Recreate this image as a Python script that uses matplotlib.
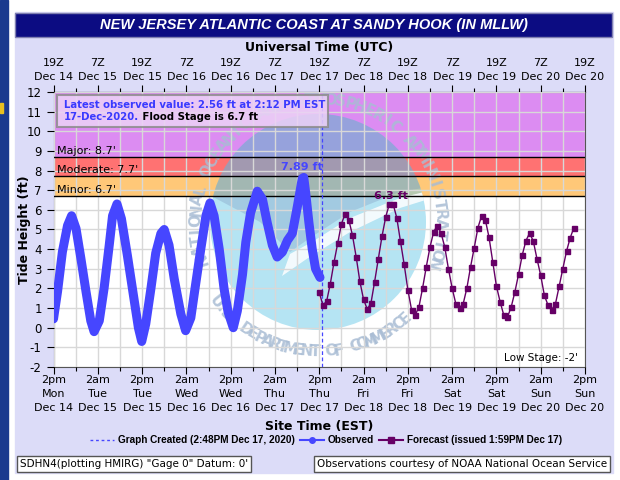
import numpy as np
import matplotlib
matplotlib.use("Agg")
import matplotlib.pyplot as plt
from matplotlib.patches import Rectangle, Circle, Polygon
from matplotlib.lines import Line2D
from matplotlib.transforms import IdentityTransform

# hours since 2pm EST Mon Dec 14
obs_hours = [0.0, 1.1, 2.4, 3.8, 4.9, 6.1, 7.4, 8.8, 10.1, 11.0, 12.4, 13.7, 15.1, 16.0,
             17.2, 18.4, 20.0, 21.9, 23.0, 23.9, 25.0, 26.4, 27.7, 29.1, 30.0, 31.3, 32.7,
             34.5, 35.8, 37.2, 38.5, 39.9, 41.3, 42.4, 43.5, 44.9, 46.2, 47.3, 48.7, 49.8,
             51.2, 52.1, 53.4, 55.2, 56.6, 57.9, 59.3, 60.6, 62.0, 63.4, 64.7, 66.1, 67.4,
             67.8, 68.3, 69.2, 70.1, 71.0, 72.2]
obs_ft = [0.45, 1.85, 3.85, 5.2, 5.7, 5.05, 3.55, 1.85, 0.35, -0.2, 0.35, 2.0, 4.2, 5.7,
          6.3, 5.55, 3.7, 1.35, 0.0, -0.7, 0.2, 2.0, 3.8, 4.8, 5.0, 4.2, 2.5,
          0.7, -0.15, 0.5, 2.2, 4.0, 5.7, 6.35, 5.7, 4.0, 2.0, 0.8, 0.0, 0.85,
          2.7, 4.35, 5.85, 6.95, 6.55, 5.35, 4.2, 3.6, 3.85, 4.45, 4.8, 6.2, 7.6,
          7.65, 6.9, 5.35, 4.0, 3.0, 2.56]

fc_start = 72
fc_ft = [1.8, 1.14, 1.35, 2.24, 3.33, 4.30, 5.28, 5.79, 5.50, 4.70, 3.61, 2.36, 1.44, 0.95,
         1.24, 2.34, 3.50, 4.65, 5.63, 6.3, 6.3, 5.60, 4.40, 3.23, 1.94, 0.92, 0.65, 1.05,
         2.02, 3.10, 4.10, 4.88, 5.20, 4.82, 4.11, 3.00, 2.02, 1.22, 1.02, 1.22, 2.02, 3.10,
         4.08, 5.10, 5.70, 5.49, 4.60, 3.36, 2.12, 1.32, 0.64, 0.55, 1.05, 1.82, 2.72, 3.70,
         4.43, 4.82, 4.40, 3.50, 2.66, 1.64, 1.14, 0.92, 1.22, 2.11, 3.01, 3.90, 4.58, 5.10]
fc_hours = list(range(fc_start, fc_start + len(fc_ft)))

graph_created = 72.8
stages = [("Minor", 6.7, 7.7, "#ffc878"), ("Moderate", 7.7, 8.7, "#ff7272"),
          ("Major", 8.7, 12.0, "#dc8cf2")]

bottom_labels = ["2pm\nMon\nDec 14", "2am\nTue\nDec 15", "2pm\nTue\nDec 15", "2am\nWed\nDec 16",
                 "2pm\nWed\nDec 16", "2am\nThu\nDec 17", "2pm\nThu\nDec 17", "2am\nFri\nDec 18",
                 "2pm\nFri\nDec 18", "2am\nSat\nDec 19", "2pm\nSat\nDec 19", "2am\nSun\nDec 20",
                 "2pm\nSun\nDec 20"]
top_labels = ["19Z\nDec 14", "7Z\nDec 15", "19Z\nDec 15", "7Z\nDec 16", "19Z\nDec 16",
              "7Z\nDec 17", "19Z\nDec 17", "7Z\nDec 18", "19Z\nDec 18", "7Z\nDec 19",
              "19Z\nDec 19", "7Z\nDec 20", "19Z\nDec 20"]

OBS = "#4646ff"
FC = "#660066"
H = 480

fig = plt.figure(figsize=(6.2, 4.8), dpi=100, facecolor="white")
pix = IdentityTransform()

def P(x, y):
    # pixel coords measured from the top-left
    return (x, H - y)

# page furniture
fig.patches.append(Rectangle((0, 0), 8, H, transform=pix, color="#1a3a8e", zorder=-3))
fig.patches.append(Rectangle(P(0, 113), 3, 10, transform=pix, color="#e8c020", zorder=-2))
fig.patches.append(Rectangle(P(15, 473), 598, 461, transform=pix, color="#dcdcf8", zorder=-3))
fig.patches.append(Rectangle(P(15, 37), 597, 24, transform=pix, facecolor="#0c0c82",
                             edgecolor="#8080b0", lw=1, zorder=-2))
fig.text(314 / 620, 1 - 24.5 / H, "NEW JERSEY ATLANTIC COAST AT SANDY HOOK (IN MLLW)",
         color="white", fontsize=10.5, fontweight="bold", style="italic",
         family="Liberation Sans", ha="center", va="center")

ax = fig.add_axes([53.5 / 620, 1 - 367 / H, (585 - 53.5) / 620, (367 - 92) / H])
ax.set_facecolor("white")
ax.set_xlim(0, 144)
ax.set_ylim(-2, 12)

for name, lo, hi, col in stages:
    ax.axhspan(lo, hi, color=col, zorder=0.5, lw=0)
    ax.axhline(lo, color="black", lw=1, zorder=2.6)
    ax.text(1, lo + 0.05, f"{name}: {lo}'", fontsize=8, va="bottom", ha="left", zorder=5)

# faded NOAA watermark
cx, cy = 318, 222
disc = Circle(P(cx, cy), 108, transform=pix, facecolor="#6ccbe8", alpha=0.5, lw=0, zorder=1)
ax.add_patch(disc)
disc.set_clip_path(ax.patch)
cap = Polygon([P(200, 100), P(440, 100), P(440, 185), P(400, 192), P(350, 212),
               P(310, 238), P(290, 252), P(260, 222), P(200, 190)],
              closed=True, transform=pix, facecolor="#7890b8", alpha=0.3, lw=0, zorder=1.1)
ax.add_patch(cap)
cap.set_clip_path(Circle(P(cx, cy), 108, transform=pix))
wing = Polygon([P(290, 254), P(312, 242), P(350, 218), P(400, 198), P(432, 190),
                P(432, 198), P(400, 208), P(350, 232), P(308, 258), P(282, 276)],
               closed=True, transform=pix, facecolor="white", alpha=0.85, lw=0, zorder=1.2)
ax.add_patch(wing)
wing.set_clip_path(Circle(P(cx, cy), 108, transform=pix))
ring_top = "NATIONAL OCEANIC AND ATMOSPHERIC ADMINISTRATION"
for i, ch in enumerate(ring_top):
    a = np.radians(198 - i * 218 / (len(ring_top) - 1))
    x, y = P(cx + 122 * np.cos(a), cy - 122 * np.sin(a))
    ax.text(x, y, ch, transform=pix, rotation=np.degrees(a) - 90, fontsize=11,
            fontweight="bold", color="#a8bcd4", alpha=0.85, ha="center", va="center",
            clip_on=True, zorder=1.3)
ring_bot = "U.S. DEPARTMENT OF COMMERCE"
for i, ch in enumerate(ring_bot):
    a = np.radians(218 + i * 94 / (len(ring_bot) - 1))
    x, y = P(cx + 130 * np.cos(a), cy - 130 * np.sin(a))
    ax.text(x, y, ch, transform=pix, rotation=np.degrees(a) + 90, fontsize=11,
            fontweight="bold", color="#a8bcd4", alpha=0.85, ha="center", va="center",
            clip_on=True, zorder=1.3)

# grid
ax.set_xticks(np.arange(0, 145, 12))
ax.set_xticks(np.arange(0, 145, 6), minor=True)
ax.set_yticks(np.arange(-2, 13, 1))
ax.grid(True, which="both", color="#d8d8d8", lw=1)
ax.set_axisbelow(False)

ax.plot(obs_hours, obs_ft, color=OBS, lw=6.5, solid_capstyle="round",
        solid_joinstyle="round", zorder=4)
ax.plot(fc_hours, fc_ft, color=FC, lw=1, marker="s", ms=3.6, zorder=4.5)
ax.axvline(graph_created, color=OBS, lw=0.9, ls=(0, (3, 2)), zorder=4.2)

ax.text(67.4, 8.2, "7.89 ft", color=OBS, fontsize=8, fontweight="bold", ha="center",
        va="center", zorder=5)
ax.text(91.4, 6.72, "6.3 ft", color=FC, fontsize=8, fontweight="bold", ha="center",
        va="center", zorder=5)
ax.text(142, -1.55, "Low Stage: -2'", fontsize=7.5, ha="right", va="center", zorder=5)

# info box
ax.add_patch(Rectangle(P(57, 127), 271, 32, transform=pix, facecolor="#ecd2f6",
                       alpha=0.85, edgecolor="#8c8c8c", lw=1.5, zorder=5))
ax.text(64, H - 105, "Latest observed value: 2.56 ft at 2:12 PM EST", transform=pix,
        color="#3a3aff", fontsize=7.3, fontweight="bold", va="center", zorder=6)
t1 = ax.text(64, H - 117, "17-Dec-2020.", transform=pix, color="#3a3aff", fontsize=7.3,
             fontweight="bold", va="center", zorder=6)
ax.annotate(" Flood Stage is 6.7 ft", xy=(1, 0.5), xycoords=t1, va="center",
            fontsize=7.3, fontweight="bold", color="black", zorder=6)

ax.set_xticklabels(bottom_labels, fontsize=8, linespacing=1.5)
ax.set_yticklabels([str(v) for v in range(-2, 13)], fontsize=8.5)
ax.tick_params(which="major", length=5, color="black", width=0.8)
ax.tick_params(which="minor", length=3, color="black", width=0.8)
ax.tick_params(axis="x", pad=0.8)
ax.set_ylabel("Tide Height (ft)", fontsize=9, fontweight="bold", labelpad=-3)
ax.set_xlabel("Site Time (EST)", fontsize=9, fontweight="bold", labelpad=5)
for s in ax.spines.values():
    s.set_color("#555555")

top = ax.secondary_xaxis("top")
top.set_xticks(np.arange(0, 145, 12))
top.set_xticks(np.arange(0, 145, 6), minor=True)
top.set_xticklabels(top_labels, fontsize=8, linespacing=1.5)
top.tick_params(which="major", length=5, width=0.8, pad=2)
top.tick_params(which="minor", length=3, width=0.8)
top.set_xlabel("Universal Time (UTC)", fontsize=9, fontweight="bold", labelpad=5)

handles = [Line2D([], [], color=OBS, lw=1, ls=(0, (2, 2))),
           Line2D([], [], color=OBS, lw=1.5, marker="o", ms=4),
           Line2D([], [], color=FC, lw=1.5, marker="s", ms=4)]
labels = ["Graph Created (2:48PM Dec 17, 2020)", "Observed", "Forecast (issued 1:59PM Dec 17)"]
fig.legend(handles, labels, loc="center", bbox_to_anchor=(326 / 620, 1 - 440 / H), ncol=3,
           frameon=False, handlelength=2.4, columnspacing=0.5, handletextpad=0.4,
           prop={"weight": "bold", "size": 7.2, "family": "Liberation Sans"})

fig.text(20 / 620, 1 - 464 / H, "SDHN4(plotting HMIRG) \"Gage 0\" Datum: 0'", fontsize=7.5,
         va="center", ha="left",
         bbox=dict(boxstyle="square,pad=0.3", facecolor="white", edgecolor="#555555", lw=1))
fig.text(607 / 620, 1 - 464 / H, "Observations courtesy of NOAA National Ocean Service",
         fontsize=7.5, va="center", ha="right",
         bbox=dict(boxstyle="square,pad=0.3", facecolor="white", edgecolor="#555555", lw=1))

fig.savefig("out.png", dpi=100)
